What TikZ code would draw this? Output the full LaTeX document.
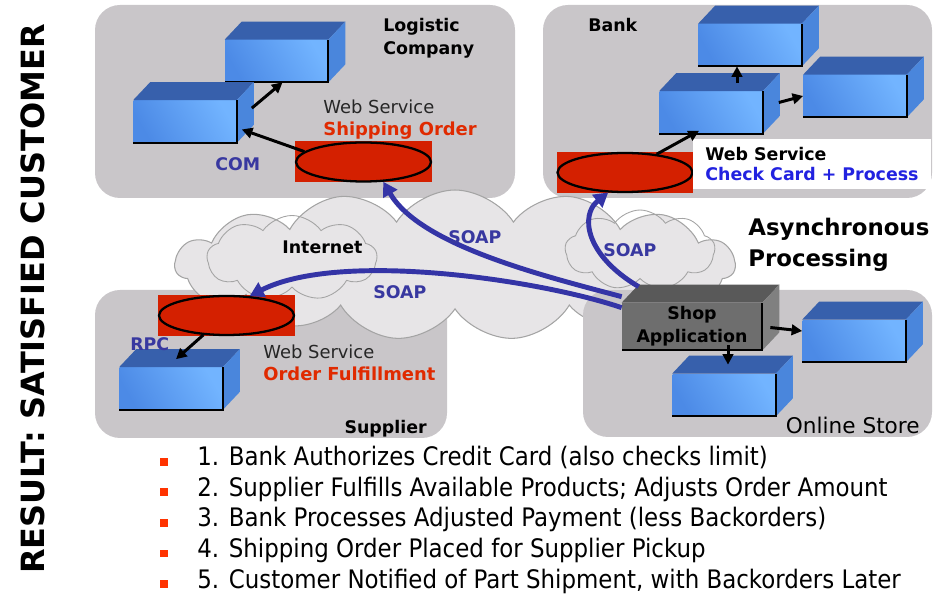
\documentclass[tikz,border=0pt]{standalone}
\usepackage{fontspec}
\setmainfont{DejaVu Sans}
\newfontfamily\narrowfont{DejaVu Sans Condensed}
\usetikzlibrary{arrows.meta,calc,shapes.geometric,shapes.symbols}

\definecolor{panelgray}{HTML}{C9C6C9}
\definecolor{cloudfill}{HTML}{E7E5E7}
\definecolor{cloudline}{HTML}{A4A4A4}
\definecolor{wsred}{HTML}{D42000}
\definecolor{cubeA}{HTML}{4C8AE6}
\definecolor{cubeB}{HTML}{72B4FF}
\definecolor{cubetopc}{HTML}{3760AC}
\definecolor{cubesidec}{HTML}{4A86DC}
\definecolor{shopfront}{HTML}{6E6E6E}
\definecolor{shoptopc}{HTML}{595959}
\definecolor{shopsidec}{HTML}{808080}
\definecolor{soapblue}{HTML}{3434A6}
\definecolor{lblblue}{HTML}{3838A0}
\definecolor{ccblue}{HTML}{2222E0}
\definecolor{txtred}{HTML}{E02A00}
\definecolor{bulletred}{HTML}{FF3300}

\begin{document}
\begin{tikzpicture}[
    x=0.02cm, y=-0.02cm,
    panel/.style={fill=panelgray, rounded corners=0.5cm},
    cloudy/.style={cloud, cloud puffs=15, cloud puff arc=115, aspect=3.7, fill=cloudfill, draw=cloudline, line width=0.6pt, minimum width=11.2cm, minimum height=3.0cm, inner sep=0},
    puff/.style={cloud, cloud puffs=9, cloud puff arc=110, aspect=2.2, draw=cloudline, line width=0.5pt, inner sep=0},
    cube/.style={rectangle, minimum width=2.06cm, minimum height=0.84cm, inner sep=0, left color=cubeA, right color=cubeB, shading angle=120},
    shopbox/.style={rectangle, minimum width=2.8cm, minimum height=0.94cm, inner sep=0, fill=shopfront, align=center, font=\fontsize{9.9}{13}\selectfont\bfseries},
    cubetop/.style={fill=cubetopc},
    cubeside/.style={fill=cubesidec},
    shoptop/.style={fill=shoptopc},
    shopside/.style={fill=shopsidec},
    edge/.style={draw=black, line width=1pt},
    wsrect/.style={rectangle, fill=wsred, minimum width=2.74cm, minimum height=0.82cm, inner sep=0},
    wsell/.style={ellipse, fill=wsred, draw=black, line width=1.3pt, minimum width=2.7cm, minimum height=0.78cm, inner sep=0},
    lbl/.style={font=\fontsize{9.9}{13}\selectfont\bfseries, inner sep=0, anchor=north west, align=left},
    plain/.style={font=\fontsize{10.2}{12.5}\selectfont, text=black!85, inner sep=0, anchor=north west, align=left},
    flow/.style={-{Triangle[length=6pt, width=6pt]}, line width=1.7pt},
    soap/.style={-{Triangle[length=8pt, width=9pt]}, line width=2.8pt, draw=soapblue},
    item/.style={anchor=base west, inner sep=0, font=\narrowfont\fontsize{14.5}{16}\selectfont},
    sq/.style={rectangle, fill=bulletred, minimum size=0.16cm, inner sep=0}
]
\useasboundingbox (0,0) rectangle (933,597);

% company panels
\fill[panel] (95,5) rectangle (515,198);
\fill[panel] (543,5) rectangle (932,198);
\fill[panel] (95,290) rectangle (447,438);

% the internet
\node[cloudy] (internet) at (455,265) {};
\node[puff, minimum width=3.4cm, minimum height=1.7cm] (leftpuff) at (292,258) {};
\node[puff, minimum width=3.0cm, minimum height=1.6cm] (rightpuff) at (640,250) {};

\fill[panel] (583,290) rectangle (932,437);

% servers
\node[cube] (lup) at (276.5,61) {};
\node[cube] (llow) at (185,121.5) {};
\node[cube] (btop) at (750,45) {};
\node[cube] (bmid) at (711,112.5) {};
\node[cube] (bright) at (855,96) {};
\node[cube] (scube) at (171,388.5) {};
\node[cube] (oright) at (854,341) {};
\node[cube] (olow) at (724,395) {};
\node[shopbox] (shop) at (692,326.5) {Shop\\Application};

\foreach \c/\tp/\sd in {lup/cubetop/cubeside, llow/cubetop/cubeside, btop/cubetop/cubeside,
    bmid/cubetop/cubeside, bright/cubetop/cubeside, scube/cubetop/cubeside,
    oright/cubetop/cubeside, olow/cubetop/cubeside, shop/shoptop/shopside} {
  \fill[\tp] (\c.north west) -- ++(17,-18) -- ($(\c.north east)+(17,-18)$) -- (\c.north east) -- cycle;
  \fill[\sd] (\c.north east) -- ++(17,-18) -- ($(\c.south east)+(17,-18)$) -- (\c.south east) -- cycle;
  \draw[edge] (\c.north east) -- (\c.south east) -- (\c.south west);
}

% web services
\node[wsrect] (shiprect) at (363.5,162) {};
\node[wsell] (shipell) at (shiprect) {};
\node[wsrect] (bankrect) at (625,172.5) {};
\node[wsell] (bankell) at (bankrect) {};
\node[wsrect] (supprect) at (226.5,315.5) {};
\node[wsell] (suppell) at (supprect) {};

% labels
\node[lbl] (logname) at (383,18) {Logistic\\Company};
\node[lbl] (bankname) at (588,18) {Bank};
\node[lbl, anchor=north east] (suppname) at (427,420) {Supplier};
\node[plain, text=black, font=\fontsize{12.3}{14}\selectfont, anchor=north east] (storename) at (920,417) {Online Store};
\node[lbl, text=lblblue] (com) at (215,157) {COM};
\node[lbl, text=lblblue] (rpc) at (130,337) {RPC};
\node[plain] (shipws) at (323,100) {Web Service\\\textbf{\textcolor{txtred}{Shipping Order}}};
\node[plain] (suppws) at (263,345) {Web Service\\\textbf{\textcolor{txtred}{Order Fulfillment}}};
\node[lbl, fill=white, inner xsep=0.24cm, inner ysep=0.16cm, font=\fontsize{9.9}{11.5}\selectfont\bfseries] (bankws) at (693,139)
  {Web Service\\\textcolor{ccblue}{Check Card + Process}};
\node[lbl] (inetlbl) at (282,240) {Internet};
\node[lbl, font=\fontsize{13}{17.6}\selectfont\bfseries] (async) at (748,218) {Asynchronous\\Processing};

% calls inside each company
\draw[flow] ($(llow.north east)+(15,8)$) -- ($(lup.south)+(6,0)$);
\draw[flow] (shipell.170) -- ($(llow.east)+(5,8)$);
\draw[flow] (bankell.30) -- ($(bmid.south)+(-12,-3)$);
\draw[flow] ($(bmid.north)+(26,-8)$) -- ($(btop.south)+(-13,0)$);
\draw[flow] ($(bmid.east)+(16,-10)$) -- (bright.west);
\draw[flow] (suppell.220) -- ($(scube.north)+(5,-8)$);
\draw[flow] ($(shop.east)+(8,1)$) -- ($(oright.west)+(0,-10)$);
\draw[flow] ($(shop.south)+(36,-5)$) -- ($(olow.north)+(4,-9)$);

% SOAP calls from the shop
\draw[soap] ($(shop.north west)+(0,-6)$) .. controls (540,275) and (420,245) .. (shipell.-45);
\draw[soap] ($(shop.north west)+(17,-16)$) .. controls (585,255) and (580,215) .. (bankell.-130);
\draw[soap] ($(shop.north west)+(0,5)$) .. controls (540,280) and (340,250) .. (suppell.40);
\node[lbl, text=lblblue] (soap1) at (448,230) {SOAP};
\node[lbl, text=lblblue] (soap2) at (373,285) {SOAP};
\node[lbl, text=lblblue] (soap3) at (603,243) {SOAP};

% steps
\foreach \txt [count=\i] in {{1. Bank Authorizes Credit Card (also checks limit)},
    {2. Supplier Fulfills Available Products; Adjusts Order Amount},
    {3. Bank Processes Adjusted Payment (less Backorders)},
    {4. Shipping Order Placed for Supplier Pickup},
    {5. Customer Notified of Part Shipment, with Backorders Later}} {
  \node[sq] (sq\i) at (164,{462+30.5*(\i-1)}) {};
  \node[item] (item\i) at (197,{466+30.5*(\i-1)}) {\txt};
}

\node[rotate=90, font=\fontsize{18.2}{20}\selectfont\bfseries] (title) at (33,299) {RESULT: SATISFIED CUSTOMER};
\end{tikzpicture}
\end{document}
